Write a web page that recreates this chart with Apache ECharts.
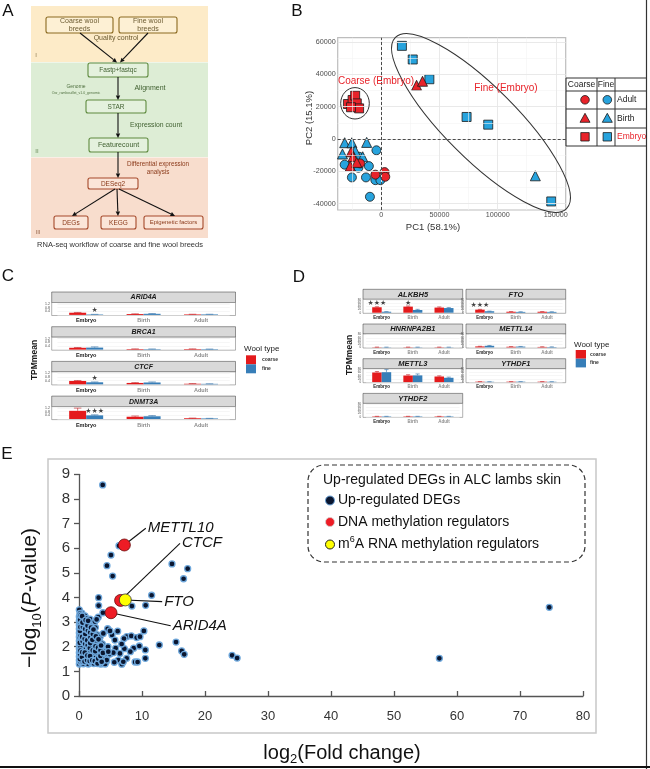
<!DOCTYPE html>
<html>
<head>
<meta charset="utf-8">
<script src="https://cdn.jsdelivr.net/npm/echarts@6.0.0/dist/echarts.min.js"></script>
<style>html,body{margin:0;padding:0;background:#fff;}#chart{width:650px;height:769px;}</style>
</head>
<body>
<div id="chart"></div>
<script>
// ================= DATA =================
// Panel B: PCA (PC1, PC2)
const pcCoarseAdult  = [[-5100,-22100],[2800,-20500],[3400,-23400],[-18300,-15100]];
const pcFineAdult    = [[-31500,-15900],[-25300,-23800],[-19100,-11000],[-19700,-17800],[-10700,-16800],[-13200,-23800],[-4200,-7000],[-5100,-25500],[-800,-25500],[-9800,-35800]];
const pcCoarseBirth  = [[30300,33300],[35400,35800],[-25900,-7900],[-24400,-11000],[-26700,-16800],[-21100,-14500]];
const pcFineBirth    = [[-31500,-2300],[-25300,-2300],[-12600,-2100],[-33400,-9300],[-22500,-7200],[-16000,-11000],[132400,-22800]];
const pcCoarseEmbryo = [[-28700,21700],[-24700,24200],[-22500,26900],[-21100,22100],[-19100,19000],[-26100,19700]];
const pcFineEmbryo   = [[17700,57750],[27000,49300],[41300,37050],[73300,13660],[91900,8900],[146100,-38700]];
const pcXTicks = [0, 50000, 100000, 150000];
const pcXMinor = [-25000, 25000, 75000, 125000];
const pcYTicks = [-40000, -20000, 0, 20000, 40000, 60000];
const pcYMinor = [-30000, -10000, 10000, 30000, 50000];

// Panels C / D: TPM mean bars
const stages = ['Embryo', 'Birth', 'Adult'];
const cGenes = ['ARID4A', 'BRCA1', 'CTCF', 'DNMT3A'];
const cCoarse    = [[0.24,0.10,0.06],[0.20,0.06,0.06],[0.37,0.15,0.06],[0.90,0.25,0.08]];
const cFine      = [[0.05,0.12,0.06],[0.22,0.05,0.05],[0.22,0.20,0.05],[0.40,0.30,0.06]];
const cCoarseErr = [[0.03,0.02,0.01],[0.03,0.02,0.02],[0.05,0.04,0.02],[0.30,0.08,0.02]];
const cFineErr   = [[0.01,0.03,0.01],[0.08,0.02,0.01],[0.04,0.06,0.01],[0.06,0.08,0.01]];
const cStars     = [[[0,0.55,'★']], [], [[0,0.72,'★']], [[0,0.9,'★★★']]];
const cYTicks = [0, 0.4, 0.8, 1.2];

const dGenes = ['ALKBH5', 'FTO', 'HNRNPA2B1', 'METTL14', 'METTL3', 'YTHDF1', 'YTHDF2'];
const dCoarse    = [[34,38,32],[19,6,6],[1.5,1.5,1.5],[6,4,3],[60,41,35],[2.5,2.5,2.5],[2.5,2.5,2.5]];
const dFine      = [[6,17,29],[9,5,5],[1.2,1.3,1.2],[10,5,2.5],[62,42,27],[2,2.5,2],[2.5,2.5,2.5]];
const dCoarseErr = [[3,4,4],[2,1,1],[0.5,0.5,0.5],[1,1,1],[6,5,4],[0.5,0.5,0.5],[0.5,0.5,0.5]];
const dFineErr   = [[1,4,3],[1,1,1],[0.5,0.5,0.5],[2,1,1],[16,9,4],[0.5,0.5,0.5],[0.5,0.5,0.5]];
const dStars     = [[[0,59,'★★★'],[1,59,'★']], [[0,47,'★★★']], [], [], [], [], []];
const dYTicks = [0, 20, 40, 60, 80];

// Panel E: up-regulated DEGs (log2 fold change, -log10 P)
const eXTicks = [0,10,20,30,40,50,60,70,80];
const eYTicks = [0,1,2,3,4,5,6,7,8,9];
const degCluster = [
 [0.05,1.30],[0.05,1.45],[0.05,1.60],[0.05,1.76],[0.05,1.92],[0.05,2.08],[0.05,2.24],[0.05,2.40],[0.05,2.56],[0.05,2.72],[0.05,2.88],[0.05,3.05],[0.05,3.22],[0.05,3.50],
 [0.35,1.34],[0.30,1.52],[0.38,1.70],[0.32,1.88],[0.40,2.10],[0.33,2.31],[0.36,2.52],[0.30,2.74],[0.42,2.96],[0.35,3.18],[0.45,3.36],
 [0.70,1.31],[0.78,1.48],[0.72,1.66],[0.80,1.84],[0.75,2.02],[0.82,2.22],[0.70,2.44],[0.85,2.63],[0.76,2.84],[0.88,3.04],[0.95,3.25],
 [1.10,1.38],[1.18,1.57],[1.05,1.76],[1.22,1.95],[1.12,2.16],[1.25,2.36],[1.08,2.57],[1.20,2.78],[1.30,2.98],[1.15,3.15],
 [1.48,1.30],[1.55,1.47],[1.62,1.68],[1.50,1.86],[1.58,2.06],[1.66,2.27],[1.52,2.48],[1.60,2.70],[1.70,2.90],[1.75,3.12],
 [1.90,1.36],[2.00,1.55],[1.95,1.78],[2.05,1.98],[1.92,2.18],[2.10,2.40],[2.02,2.62],[2.15,2.85],
 [2.35,1.32],[2.42,1.50],[2.30,1.72],[2.48,1.92],[2.38,2.12],[2.55,2.33],[2.45,2.55],[2.60,2.78],[2.52,3.02],
 [2.75,1.40],[2.85,1.62],[2.78,1.85],[2.92,2.05],[2.82,2.28],[2.95,2.48],
 [3.15,1.34],[3.25,1.55],[3.20,1.78],[3.30,2.00],[3.18,2.22],[3.35,2.40],[3.05,3.20],
 [3.55,1.45],[3.65,1.66],[3.60,1.90],[3.70,2.12],
 [3.95,1.36],[4.05,1.58],[4.00,1.80],[4.35,1.40],[4.45,1.62],
 [0.20,1.40],[0.55,1.40],[0.60,1.95],[0.95,1.60],[1.35,1.80],[1.40,2.45],[1.80,1.50],[1.85,2.25],[2.20,1.65],[2.25,2.05],
 [2.65,1.55],[2.70,2.20],[3.00,1.75],[0.20,2.00],[0.55,2.60],[0.25,2.90],[0.60,3.10],[1.00,2.90],[0.15,3.35],[3.45,1.30],[3.85,1.50],
 [0.15,1.50],[0.18,1.68],[0.22,1.84],[0.12,2.16],[0.25,2.46],[0.15,2.64],[0.22,2.80],[0.18,3.10],[0.28,3.28],
 [0.48,1.58],[0.52,1.78],[0.58,2.22],[0.50,2.40],[0.62,2.80],[0.55,2.98],[0.50,3.24],
 [0.88,1.40],[0.92,1.76],[0.98,2.12],[0.90,2.32],[1.00,2.52],[0.98,2.72],[1.05,3.08],
 [1.28,1.46],[1.32,1.64],[1.38,2.06],[1.30,2.26],[1.42,2.66],[1.35,2.86],[1.45,3.05],
 [1.70,1.42],[1.75,1.62],[1.72,1.95],[1.78,2.15],[1.82,2.38],[1.78,2.58],[1.90,2.78],
 [2.10,1.45],[2.18,1.85],[2.12,2.28],[2.20,2.52],[2.30,2.70],
 [2.50,1.42],[2.58,1.82],[2.62,2.02],[2.68,2.42],
 [2.95,1.32],[3.05,1.52],[3.02,1.96],[3.10,2.30],
 [3.40,1.62],[3.42,1.86],[3.50,2.05],[3.75,1.32],[3.80,1.75],[4.20,1.50],[4.15,1.30]
];
const degOutliers = [
 [3.76,8.57],[6.35,6.10],[5.08,5.72],[4.44,5.29],[5.34,4.87],[14.76,5.36],[17.25,5.17],[16.6,4.76],[3.12,3.99],[3.12,3.67],
 [8.4,3.65],[10.58,3.68],[11.53,4.09],[3.8,3.38],[2.8,3.11],[4.55,2.73],[3.86,2.54],[6.14,2.63],[5.24,2.48],[7.57,2.41],
 [8.3,2.44],[9.15,2.37],[10.3,2.64],[5.7,2.27],[4.6,2.0],[5.82,1.94],[7.14,2.33],[7.2,1.92],[8.68,1.94],[9.58,2.03],
 [10.53,1.87],[12.75,2.07],[15.4,2.19],[16.3,1.83],[16.7,1.69],[8.15,1.8],[6.5,1.73],[4.9,1.7],[6.24,1.46],[7.57,1.53],
 [8.9,1.38],[10.53,1.53],[9.3,1.38],[5.6,1.37],[6.8,1.29],[4.4,1.46],[3.6,1.39],[24.3,1.65],[25.1,1.54],[57.2,1.53],
 [74.65,3.6],[6.77,2.11],[5.45,1.76],[4.65,1.8],[7.03,1.39],[4.92,2.64],[9.68,2.41]
];
const dnaMethyl = [[7.2,6.13],[6.6,3.88],[5.08,3.38]];
const dnaMethylNames = ['METTL10','CTCF','ARID4A'];
const m6aMethyl = [[7.35,3.9]];
const m6aNames = ['FTO'];
const labelAnchors = {METTL10:[10.6,6.81], CTCF:[16.03,6.2], FTO:[13.2,3.83], ARID4A:[14.55,2.85]};

// ================= BUILD =================
const FONT = '"Liberation Sans", Arial, Helvetica, sans-serif';
const RED = '#E41A1C', BLUE = '#377EB8';
const PRED = '#E8232A', PBLUE = '#27A3DD';
const grids = [], xAxes = [], yAxes = [], series = [], graphics = [];

function T(x, y, text, o) {
  o = o || {};
  const st = {text: text, fill: o.color || '#222', fontSize: o.fs || 8, fontFamily: o.ff || FONT,
    fontWeight: o.fw || 'normal', fontStyle: o.fst || 'normal', align: o.align || 'center', verticalAlign: 'middle'};
  if (o.lh) st.lineHeight = o.lh;
  if (o.rich) st.rich = o.rich;
  graphics.push({type: 'text', x: x, y: y, z: o.z == null ? 10 : o.z, rotation: o.rot || 0, silent: true, style: st});
}
function R(x, y, w, h, fill, stroke, lw, r, z, dash) {
  graphics.push({type: 'rect', z: z == null ? 0 : z, silent: true, shape: {x: x, y: y, width: w, height: h, r: r || 0},
    style: {fill: fill, stroke: stroke, lineWidth: lw || 0, lineDash: dash || null}});
}
function L(x1, y1, x2, y2, stroke, lw, z) {
  graphics.push({type: 'line', z: z == null ? 5 : z, silent: true, shape: {x1: x1, y1: y1, x2: x2, y2: y2}, style: {stroke: stroke, lineWidth: lw || 1}});
}
function C(cx, cy, r, fill, stroke, lw, z) {
  graphics.push({type: 'circle', z: z == null ? 8 : z, silent: true, shape: {cx: cx, cy: cy, r: r}, style: {fill: fill, stroke: stroke, lineWidth: lw || 0.8}});
}
function P(points, fill, stroke, lw, z) {
  graphics.push({type: 'polygon', z: z == null ? 8 : z, silent: true, shape: {points: points}, style: {fill: fill, stroke: stroke, lineWidth: lw || 0.8}});
}
function arrow(x1, y1, x2, y2) {
  const a = Math.atan2(y2 - y1, x2 - x1), len = 4.5, hw = 2.2;
  const bx = x2 - len * Math.cos(a), by = y2 - len * Math.sin(a);
  L(x1, y1, bx, by, '#111', 1.1, 6);
  P([[x2, y2], [bx + hw * Math.sin(a), by - hw * Math.cos(a)], [bx - hw * Math.sin(a), by + hw * Math.cos(a)]], '#111', null, 0, 6);
}
function box(x, y, w, h, stroke, fill, text, fs, color) {
  R(x, y, w, h, fill, stroke, 1.1, 2, 5);
  T(x + w / 2, y + h / 2 + 0.3, text, {fs: fs, color: color, lh: fs + 0.6});
}

// ---------- Panel labels ----------
T(8, 11, 'A', {fs: 17, color: '#111'});
T(297, 11, 'B', {fs: 17, color: '#111'});
T(8, 276, 'C', {fs: 17, color: '#111'});
T(299, 277, 'D', {fs: 17, color: '#111'});
T(7, 454, 'E', {fs: 17, color: '#111'});

// ---------- Panel A: workflow ----------
R(31, 6, 177, 56, '#FDEBC8', null, 0, 0, 1);
R(31, 62.6, 177, 94.4, '#DDEDD5', null, 0, 0, 1);
R(31, 157.6, 177, 80.4, '#F8DDCD', null, 0, 0, 1);
const brownS = '#8B6A20', brownT = '#6B5A30', greenS = '#5E8A3E', greenT = '#3F5F2F', orS = '#A5492A', orT = '#8B3A1A';
box(46, 17, 67, 16, brownS, '#FDF0D4', 'Coarse wool\nbreeds', 7, brownT);
box(119, 17, 58, 16, brownS, '#FDF0D4', 'Fine wool\nbreeds', 7, brownT);
T(116, 38, 'Quality control', {fs: 7, color: brownT});
arrow(80, 33, 117, 62.5);
arrow(148, 33, 120, 62.5);
T(36, 55, 'I', {fs: 6, color: '#8A7A50'});
box(88, 63, 60, 14, greenS, '#E4F1DD', 'Fastp+fastqc', 6.5, greenT);
T(76, 87, 'Genome', {fs: 5, color: '#4F6F3F'});
T(76, 93, 'Oar_rambouillet_v1.0_genomic', {fs: 3.5, color: '#4F6F3F'});
T(150, 88, 'Alignment', {fs: 7, color: greenT});
arrow(118, 77, 118, 100);
box(86, 100, 60, 13, greenS, '#E4F1DD', 'STAR', 6.5, greenT);
T(156, 125, 'Expression count', {fs: 6.8, color: greenT});
arrow(118, 113, 118, 138);
box(89, 138, 59, 14, greenS, '#E4F1DD', 'Featurecount', 7, greenT);
T(37, 151, 'II', {fs: 6, color: '#6A8A5A'});
arrow(118, 152, 118, 178);
T(158, 164, 'Differential expression', {fs: 6.3, color: orT});
T(158, 172, 'analysis', {fs: 6.3, color: orT});
box(88, 178, 50, 11, orS, '#FBE5D8', 'DESeq2', 6.5, orT);
arrow(115, 189, 72, 216);
arrow(117, 189, 118, 216);
arrow(119, 189, 175, 216);
box(54, 216, 34, 13, orS, '#FBE5D8', 'DEGs', 6.5, orT);
box(101, 216, 35, 13, orS, '#FBE5D8', 'KEGG', 6.5, orT);
box(144, 216, 59, 13, orS, '#FBE5D8', 'Epigenetic factors', 6, orT);
T(38, 232, 'III', {fs: 6, color: '#9A6A50'});
T(120, 245, 'RNA-seq workflow of coarse and fine wool breeds', {fs: 7.5, color: '#333'});

// ---------- Panel B: PCA ----------
grids.push({left: 337.7, top: 37.7, width: 228, height: 172.3, show: true, borderColor: '#BDBDBD', borderWidth: 1.2, backgroundColor: '#fff'});
xAxes.push({gridIndex: 0, type: 'value', min: -37500, max: 158500, interval: 12500,
  axisLine: {show: false}, axisTick: {show: false}, splitLine: {show: false},
  axisLabel: {fontSize: 7.2, color: '#4D4D4D', margin: 1.5, fontFamily: FONT, formatter: v => (pcXTicks.indexOf(v) >= 0 ? String(v) : '')}});
yAxes.push({gridIndex: 0, type: 'value', min: -44000, max: 62800, interval: 4000,
  axisLine: {show: false}, axisTick: {show: false}, splitLine: {show: false},
  axisLabel: {fontSize: 7.2, color: '#4D4D4D', margin: 2, fontFamily: FONT, formatter: v => (pcYTicks.indexOf(v) >= 0 ? String(v) : '')}});
const gl = (c, w) => ({color: c, width: w, type: 'solid'});
series.push({type: 'scatter', xAxisIndex: 0, yAxisIndex: 0, data: [[0, 0]], symbolSize: 0, silent: true, z: 1,
  markLine: {silent: true, symbol: ['none', 'none'], label: {show: false}, animation: false,
    data: [].concat(
      pcXMinor.map(v => ({xAxis: v, lineStyle: gl('#F3F3F3', 0.6)})),
      pcYMinor.map(v => ({yAxis: v, lineStyle: gl('#F3F3F3', 0.6)})),
      pcXTicks.map(v => ({xAxis: v, lineStyle: gl('#E6E6E6', 0.9)})),
      pcYTicks.map(v => ({yAxis: v, lineStyle: gl('#E6E6E6', 0.9)})),
      [{xAxis: 0, lineStyle: {color: '#222', width: 0.8, type: [3, 2]}}, {yAxis: 0, lineStyle: {color: '#222', width: 0.8, type: [3, 2]}}]
    )}});
function pcS(data, symbol, color, size) {
  return {type: 'scatter', xAxisIndex: 0, yAxisIndex: 0, data: data, symbol: symbol, symbolSize: size, silent: true, z: 3,
    itemStyle: {color: color, borderColor: '#1A1A1A', borderWidth: 0.8, opacity: 1}};
}
series.push(pcS(pcFineAdult, 'circle', PBLUE, 9));
series.push(pcS(pcFineBirth, 'triangle', PBLUE, 10));
series.push(pcS(pcFineEmbryo, 'rect', PBLUE, 9));
series.push(pcS(pcCoarseAdult, 'circle', PRED, 9));
series.push(pcS(pcCoarseBirth, 'triangle', PRED, 10));
series.push(pcS(pcCoarseEmbryo, 'rect', PRED, 9));
graphics.push({type: 'ellipse', z: 9, silent: true, x: 481, y: 123, rotation: -Math.PI / 4, shape: {cx: 0, cy: 0, rx: 121, ry: 36}, style: {fill: null, stroke: '#333', lineWidth: 1}});
graphics.push({type: 'ellipse', z: 9, silent: true, shape: {cx: 355, cy: 103.3, rx: 14.3, ry: 15.7}, style: {fill: null, stroke: '#333', lineWidth: 1}});
T(376, 81.5, 'Coarse (Embryo)', {fs: 10, color: PRED});
T(506, 88, 'Fine (Embryo)', {fs: 10, color: PRED});
T(433, 227.5, 'PC1 (58.1%)', {fs: 9.5, color: '#333'});
T(309, 118, 'PC2 (15.1%)', {fs: 9.5, color: '#333', rot: Math.PI / 2});
// legend table
[78, 91, 109, 128, 146].forEach(y => L(566, y, 647, y, '#333', 1, 9));
[566, 597, 615].forEach(x => L(x, 78, x, 146, '#333', 1, 9));
T(581.5, 84.8, 'Coarse', {fs: 8.5, color: '#222'});
T(606, 84.8, 'Fine', {fs: 8.5, color: '#222'});
const legRows = [['Adult', 99.8, 'circle', '#222'], ['Birth', 118.3, 'triangle', '#222'], ['Embryo', 136.8, 'rect', PRED]];
legRows.forEach(r => {
  T(617, r[1], r[0], {fs: 8.5, color: r[3], align: 'left'});
  [[585, PRED], [607.3, PBLUE]].forEach(s => {
    const x = s[0], y = r[1];
    if (r[2] === 'circle') C(x, y, 4.3, s[1], '#1A1A1A', 0.8, 9);
    else if (r[2] === 'triangle') P([[x, y - 5], [x - 5, y + 4], [x + 5, y + 4]], s[1], '#1A1A1A', 0.8, 9);
    else R(x - 4.2, y - 4.2, 8.4, 8.4, s[1], '#1A1A1A', 0.8, 0, 9);
  });
});

// ---------- Panels C / D: facets ----------
function addFacet(o) {
  const idx = grids.length;
  grids.push({left: o.gl, top: o.gt, width: o.gw, height: o.gh});
  xAxes.push({gridIndex: idx, type: 'category', data: stages, axisLine: {show: false}, axisTick: {show: false}, splitLine: {show: false},
    axisLabel: {show: true, interval: 0, fontSize: o.xfs, margin: o.xm, fontWeight: 'bold', fontFamily: FONT,
      color: v => (v === 'Embryo' ? '#1A1A1A' : '#8C8C8C')}});
  yAxes.push({gridIndex: idx, type: 'value', min: 0, max: o.ymax, interval: o.yint, axisLine: {show: false}, axisTick: {show: false},
    splitLine: {show: true, lineStyle: {color: '#ECECEC', width: 0.5}},
    axisLabel: {fontSize: o.yfs, margin: o.ym, color: '#4D4D4D', fontFamily: FONT,
      formatter: v => (o.yTicks.indexOf(Math.round(v * 100) / 100) >= 0 ? o.yFmt(v) : '')}});
  series.push({type: 'bar', xAxisIndex: idx, yAxisIndex: idx, data: o.coarse, barWidth: o.bw, barGap: '0%', itemStyle: {color: RED}, silent: true, z: 3});
  series.push({type: 'bar', xAxisIndex: idx, yAxisIndex: idx, data: o.fine, barWidth: o.bw, barGap: '0%', itemStyle: {color: BLUE}, silent: true, z: 3});
  [[o.coarse, o.errC, -o.bw / 2, '#C0181C'], [o.fine, o.errF, o.bw / 2, '#2F6EA8']].forEach(e => {
    const vals = e[0], errs = e[1], dx = e[2], col = e[3];
    series.push({type: 'custom', xAxisIndex: idx, yAxisIndex: idx, silent: true, z: 4,
      data: vals.map((v, i) => [i, v, v + errs[i]]), encode: {x: 0, y: [1, 2]},
      renderItem: (p, api) => {
        const hi = api.coord([api.value(0), api.value(2)]);
        const lo = api.coord([api.value(0), api.value(1)]);
        const x = hi[0] + dx, cap = o.bw * 0.22;
        return {type: 'group', children: [
          {type: 'line', shape: {x1: x, y1: hi[1], x2: x, y2: lo[1]}, style: {stroke: col, lineWidth: 0.6}},
          {type: 'line', shape: {x1: x - cap, y1: hi[1], x2: x + cap, y2: hi[1]}, style: {stroke: col, lineWidth: 0.6}}]};
      }});
  });
  if (o.stars.length) {
    series.push({type: 'scatter', xAxisIndex: idx, yAxisIndex: idx, silent: true, z: 5, symbolSize: 1, itemStyle: {color: 'rgba(0,0,0,0)'},
      data: o.stars.map(s => ({value: [s[0], s[1]], label: {formatter: s[2]}})),
      label: {show: true, position: 'inside', offset: [o.starDx, 0], fontSize: o.sfs, color: '#111', fontFamily: '"DejaVu Sans", sans-serif'}});
  }
}
function facetFrame(x, stripTop, w, stripH, panelH, title, fs) {
  R(x, stripTop, w, stripH, '#D9D9D9', '#333', 0.5, 0, -1);
  T(x + w / 2, stripTop + stripH / 2 + 0.3, title, {fs: fs, fw: 'bold', fst: 'italic', color: '#1A1A1A'});
  R(x, stripTop + stripH, w, panelH, '#FFFFFF', '#666', 0.5, 0, -1);
}
// Panel C
const cBgL = 51.7, cBgW = 183.8, cUnit = cBgW / 3.2;
cGenes.forEach((g, i) => {
  const st = 292 + 34.7 * i, pt = st + 10.5, ph = 13;
  facetFrame(cBgL, st, cBgW, 10.5, ph, g, 7);
  addFacet({gl: cBgL + 0.1 * cUnit, gt: pt + 0.6, gw: 3 * cUnit, gh: ph - 1.2, xfs: 5.5, xm: 3, ymax: 1.3, yint: 0.4, yfs: 3.5, ym: 7.5,
    yTicks: cYTicks, yFmt: v => v.toFixed(1), coarse: cCoarse[i], fine: cFine[i], errC: cCoarseErr[i], errF: cFineErr[i],
    bw: 17, stars: cStars[i], starDx: 8.5, sfs: 7});
});
T(35, 360, 'TPMmean', {fs: 8.5, fw: 'bold', color: '#1A1A1A', rot: Math.PI / 2});
T(244, 349, 'Wool type', {fs: 8, color: '#1A1A1A', align: 'left'});
R(246, 355.3, 10, 9, RED, null, 0, 0, 5);
R(246, 364.3, 10, 9, BLUE, null, 0, 0, 5);
T(262, 359.8, 'coarse', {fs: 5, fw: 'bold', color: '#333', align: 'left'});
T(262, 368.8, 'fine', {fs: 5, fw: 'bold', color: '#333', align: 'left'});
// Panel D
const dColL = [363, 466], dBgW = 99.7, dUnit = dBgW / 3.2;
const dPos = [[0, 0], [1, 0], [0, 1], [1, 1], [0, 2], [1, 2], [0, 3]];
dGenes.forEach((g, i) => {
  const col = dPos[i][0], row = dPos[i][1];
  const x = dColL[col], st = 289.3 + 34.7 * row, pt = st + 10, ph = 14;
  facetFrame(x, st, dBgW, 10, ph, g, 7.5);
  addFacet({gl: x + 0.1 * dUnit, gt: pt + 0.6, gw: 3 * dUnit, gh: ph - 1.2, xfs: 4.5, xm: 2.5, ymax: 80, yint: 20, yfs: 3, ym: 5,
    yTicks: dYTicks, yFmt: v => String(v), coarse: dCoarse[i], fine: dFine[i], errC: dCoarseErr[i], errF: dFineErr[i],
    bw: 9.5, stars: dStars[i], starDx: -4.75, sfs: 7});
});
T(350, 355, 'TPMmean', {fs: 8.5, fw: 'bold', color: '#1A1A1A', rot: Math.PI / 2});
T(574, 345, 'Wool type', {fs: 8, color: '#1A1A1A', align: 'left'});
R(575.7, 350, 10.3, 8.7, RED, null, 0, 0, 5);
R(575.7, 358.7, 10.3, 8.7, BLUE, null, 0, 0, 5);
T(590, 354.3, 'coarse', {fs: 5, fw: 'bold', color: '#333', align: 'left'});
T(590, 363, 'fine', {fs: 5, fw: 'bold', color: '#333', align: 'left'});

// ---------- Panel E: scatter ----------
R(48, 459, 548, 274, null, '#C8C8C8', 1.5, 0, 1);
const eIdx = grids.length;
grids.push({left: 79, top: 474.3, width: 504, height: 221.7});
xAxes.push({gridIndex: eIdx, type: 'value', min: eXTicks[0], max: eXTicks[eXTicks.length - 1], interval: eXTicks[1] - eXTicks[0],
  axisLine: {show: true, lineStyle: {color: '#555', width: 1.3}}, axisTick: {show: true, inside: true, length: 5, lineStyle: {color: '#555', width: 1.3}},
  axisLabel: {fontSize: 13, color: '#333', margin: 14, fontFamily: FONT}, splitLine: {show: false}});
yAxes.push({gridIndex: eIdx, type: 'value', min: eYTicks[0], max: eYTicks[eYTicks.length - 1], interval: eYTicks[1] - eYTicks[0],
  axisLine: {show: true, lineStyle: {color: '#555', width: 1.3}}, axisTick: {show: true, length: 5, lineStyle: {color: '#555', width: 1.3}},
  axisLabel: {fontSize: 15, color: '#333', margin: 9, fontFamily: FONT}, splitLine: {show: false}});
series.push({type: 'scatter', xAxisIndex: eIdx, yAxisIndex: eIdx, data: degCluster.concat(degOutliers), symbolSize: 6, silent: true, z: 3,
  itemStyle: {color: '#0A1630', borderColor: '#6FA8DC', borderWidth: 1.3, opacity: 1}});
// annotation lines + labels
dnaMethylNames.concat(m6aNames).forEach((name, k) => {
  const from = k < dnaMethyl.length ? dnaMethyl[k] : m6aMethyl[k - dnaMethyl.length];
  series.push({type: 'line', xAxisIndex: eIdx, yAxisIndex: eIdx, data: [from, labelAnchors[name]], symbol: 'none', silent: true, z: 4,
    lineStyle: {color: '#111', width: 1.1}, endLabel: {show: true, formatter: name, fontSize: 15, fontStyle: 'italic', color: '#111', distance: 2, fontFamily: FONT}});
});
series.push({type: 'scatter', xAxisIndex: eIdx, yAxisIndex: eIdx, data: dnaMethyl, symbolSize: 12, silent: true, z: 6,
  itemStyle: {color: '#EE1C25', borderColor: '#6A0A0A', borderWidth: 0.8, opacity: 1}});
series.push({type: 'scatter', xAxisIndex: eIdx, yAxisIndex: eIdx, data: m6aMethyl, symbolSize: 12, silent: true, z: 7,
  itemStyle: {color: '#FFFF00', borderColor: '#333', borderWidth: 0.8, opacity: 1}});
// axis titles
T(30, 598, '{a|−log}{s|10}{a|(}{i|P}{a|-value)}', {rot: Math.PI / 2, rich: {
  a: {fontSize: 21, lineHeight: 27, fontFamily: FONT, fill: '#111'},
  s: {fontSize: 13, verticalAlign: 'bottom', fontFamily: FONT, fill: '#111'},
  i: {fontSize: 21, lineHeight: 27, fontStyle: 'italic', fontFamily: FONT, fill: '#111'}}});
T(342, 753, '{a|log}{s|2}{a|(Fold change)}', {rich: {
  a: {fontSize: 20, lineHeight: 26, fontFamily: FONT, fill: '#111'},
  s: {fontSize: 13, verticalAlign: 'bottom', fontFamily: FONT, fill: '#111'}}});
// legend
R(308, 465, 277, 97, null, '#333', 1.2, 16, 5, [5, 3]);
T(323, 480, 'Up-regulated DEGs in ALC lambs skin', {fs: 14, color: '#111', align: 'left'});
C(330, 500.5, 4.5, '#0A1630', '#6AA3DA', 1);
T(338, 500.5, 'Up-regulated DEGs', {fs: 14, color: '#111', align: 'left'});
C(330, 522, 4.5, '#EE1C25', '#D0D0D0', 0.8);
T(338, 522, 'DNA methylation regulators', {fs: 14, color: '#111', align: 'left'});
C(330, 544.5, 4.5, '#FFFF00', '#222', 1);
T(338, 544.5, '{t|m}{u|6}{t|A RNA methylation regulators}', {align: 'left', rich: {
  t: {fontSize: 14, lineHeight: 18, fontFamily: FONT, fill: '#111'},
  u: {fontSize: 9, verticalAlign: 'top', fontFamily: FONT, fill: '#111'}}});

// figure border lines
L(646.5, 0, 646.5, 769, '#333', 1.2, 12);
L(0, 767, 650, 767, '#111', 2, 12);

// ================= RENDER =================
const chart = echarts.init(document.getElementById('chart'), null, {renderer: 'canvas', width: 650, height: 769});
chart.setOption({
  animation: false,
  backgroundColor: '#fff',
  textStyle: {fontFamily: FONT},
  grid: grids, xAxis: xAxes, yAxis: yAxes, series: series,
  graphic: {elements: graphics}
});
</script>
</body>
</html>
